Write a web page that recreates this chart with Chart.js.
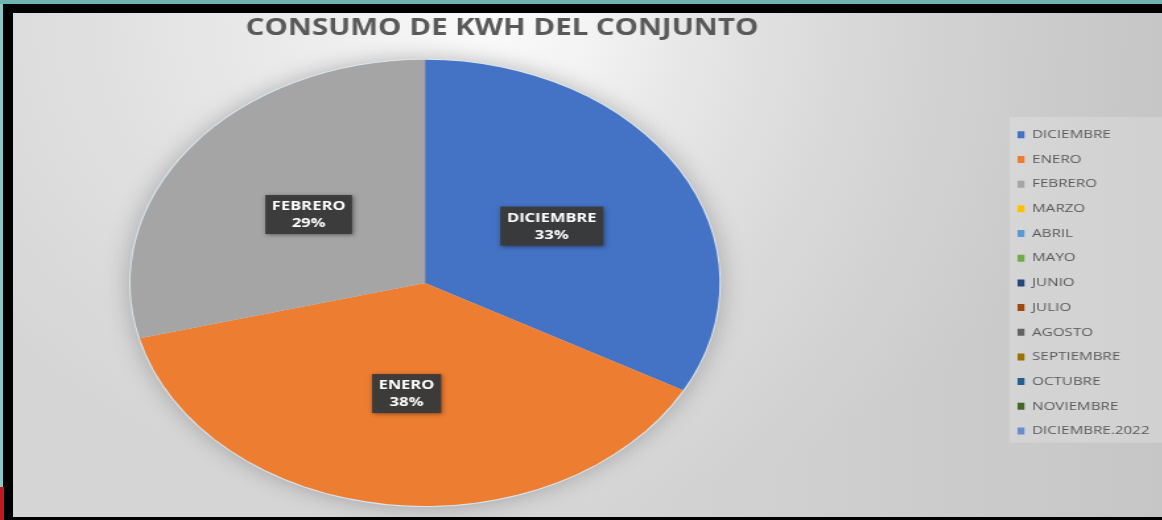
<!DOCTYPE html>
<html>
<head>
<meta charset="utf-8">
<title>Consumo de kWh del conjunto</title>
<script src="https://cdn.jsdelivr.net/npm/chart.js@4.4.1/dist/chart.umd.min.js"></script>
<style>
  html, body { margin: 0; padding: 0; }
  body { width: 1162px; height: 520px; background: #6fb4b0; position: relative; overflow: hidden; }
  #frame { position: absolute; left: 3px; top: 4px; right: 0; bottom: 0; background: #000; }
  #leftStrip { position: absolute; left: 0; top: 4px; width: 3px; bottom: 0; background: #8cc7c5; }
  #redMark { position: absolute; left: 0; top: 487px; width: 4px; height: 33px; background: #c1191d; }
  #panel {
    position: absolute; left: 13px; top: 13px; width: 1149px; height: 504px; overflow: hidden;
    background:
      linear-gradient(to right, rgba(255,255,255,0) 50%, rgba(180,180,180,0.45) 100%),
      radial-gradient(ellipse 640px 500px at 480px 0px, #fbfbfb 0%, #ececec 30%, #e0e0e0 62%, #d5d5d5 100%);
  }
  /* the original picture is stretched sideways, so the chart is too */
  #stretch { width: 871px; height: 504px; transform: scaleX(1.32); transform-origin: 0 0; }
</style>
</head>
<body>
<div id="frame"></div>
<div id="leftStrip"></div>
<div id="redMark"></div>
<div id="panel">
  <div id="stretch">
    <canvas id="kwhChart" width="871" height="504"></canvas>
  </div>
</div>

<script>
// Data
const months = ['DICIEMBRE', 'ENERO', 'FEBRERO', 'MARZO', 'ABRIL', 'MAYO', 'JUNIO',
  'JULIO', 'AGOSTO', 'SEPTIEMBRE', 'OCTUBRE', 'NOVIEMBRE', 'DICIEMBRE.2022'];
const consumo = [33, 38, 29, 0, 0, 0, 0, 0, 0, 0, 0, 0, 0];
const colores = ['#4472c4', '#ed7d31', '#a5a5a5', '#ffc000', '#5b9bd5', '#70ad47', '#264478',
  '#9e480e', '#636363', '#997300', '#255e91', '#43682b', '#698ed0'];

const chartTitle = 'CONSUMO DE KWH DEL CONJUNTO';
const textGray = '#595959';
const plotLeft = 89; // plot area sits left of the free space, like the Excel original

// square plot area, pushed to the left
const plotArea = {
  id: 'plotArea',
  afterLayout(chart) {
    const a = chart.chartArea;
    a.left = plotLeft;
    a.right = plotLeft + a.height;
    a.width = a.height;
  }
};

// soft shadow behind the whole pie, drawn once so slices don't shade each other
const pieShadow = {
  id: 'pieShadow',
  beforeDatasetsDraw(chart) {
    const arc = chart.getDatasetMeta(0).data[0];
    if (!arc) return;
    const ctx = chart.ctx;
    ctx.save();
    ctx.shadowColor = 'rgba(0, 0, 0, 0.25)';
    ctx.shadowBlur = 20;
    ctx.fillStyle = '#d9e6ee';
    ctx.beginPath();
    ctx.arc(arc.x, arc.y, arc.outerRadius + 1, 0, Math.PI * 2);
    ctx.fill();
    ctx.restore();
  }
};

// lighter box behind the legend
const legendBox = {
  id: 'legendBox',
  beforeDraw(chart) {
    const boxes = chart.legend && chart.legend.legendHitBoxes;
    if (!boxes || !boxes.length) return;
    const first = boxes[0];
    const last = boxes[boxes.length - 1];
    const ctx = chart.ctx;
    ctx.save();
    ctx.fillStyle = 'rgba(255, 255, 255, 0.2)';
    ctx.fillRect(first.left - 6, first.top - 12, chart.width - first.left + 6, last.top + last.height + 18 - first.top);
    ctx.restore();
  }
};

// dark callout boxes with month name and percentage
const sliceLabels = {
  id: 'sliceLabels',
  afterDatasetsDraw(chart) {
    const ctx = chart.ctx;
    const values = chart.data.datasets[0].data;
    const total = values.reduce((a, b) => a + b, 0);
    chart.getDatasetMeta(0).data.forEach((arc, i) => {
      if (!values[i]) return;
      const pos = arc.getCenterPoint();
      const lines = [chart.data.labels[i], Math.round(values[i] / total * 100) + '%'];
      ctx.save();
      ctx.font = 'bold 12.5px "Open Sans", sans-serif';
      const w = Math.max(...lines.map(t => ctx.measureText(t).width)) + 10;
      const h = 39;
      ctx.shadowColor = 'rgba(0, 0, 0, 0.45)';
      ctx.shadowBlur = 4;
      ctx.shadowOffsetX = 1;
      ctx.shadowOffsetY = 1;
      ctx.fillStyle = 'rgba(58, 58, 58, 0.96)';
      ctx.fillRect(pos.x - w / 2, pos.y - h / 2, w, h);
      ctx.shadowColor = 'transparent';
      ctx.fillStyle = '#ffffff';
      ctx.textAlign = 'center';
      ctx.textBaseline = 'middle';
      ctx.fillText(lines[0], pos.x, pos.y - 8);
      ctx.fillText(lines[1], pos.x, pos.y + 9);
      ctx.restore();
    });
  }
};

const ctx = document.getElementById('kwhChart').getContext('2d');
const kwhChart = new Chart(ctx, {
  type: 'pie',
  data: {
    labels: months,
    datasets: [{
      data: consumo,
      backgroundColor: colores,
      borderWidth: 0,
      hoverOffset: 0
    }]
  },
  options: {
    responsive: false,
    animation: false,
    layout: {
      padding: { left: -130, right: 0, top: 0, bottom: 11 }
    },
    plugins: {
      title: {
        display: true,
        text: chartTitle,
        color: textGray,
        font: { family: '"Open Sans", sans-serif', size: 22.3, weight: 'bold' },
        padding: { top: 2, bottom: 18 }
      },
      legend: {
        position: 'right',
        fullSize: false,
        align: 'center',
        labels: {
          color: textGray,
          font: { family: '"Open Sans", sans-serif', size: 11.5 },
          boxWidth: 5.3,
          boxHeight: 7,
          padding: 13.17
        }
      },
      tooltip: { enabled: false }
    }
  },
  plugins: [plotArea, pieShadow, legendBox, sliceLabels]
});
</script>
</body>
</html>
